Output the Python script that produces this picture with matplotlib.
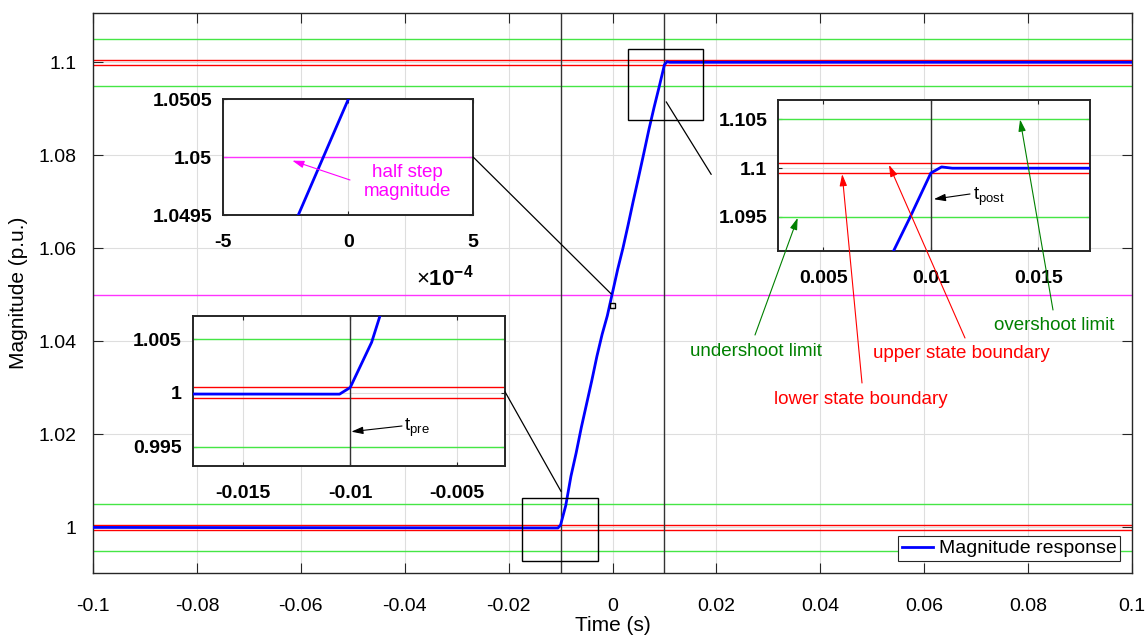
import numpy as np
import matplotlib
matplotlib.use("Agg")
import matplotlib.pyplot as plt
from matplotlib.patches import Rectangle, ConnectionPatch

plt.rcParams['font.family'] = ['Liberation Sans', 'DejaVu Sans']
plt.rcParams['axes.unicode_minus'] = False
plt.rcParams['mathtext.fontset'] = 'custom'
plt.rcParams['mathtext.rm'] = 'Liberation Sans'
plt.rcParams['mathtext.bf'] = 'Liberation Sans:bold'
plt.rcParams['mathtext.it'] = 'Liberation Sans'

# magnitude response samples (s, p.u.)
t = [-0.1, -0.0105, -0.010, -0.009, -0.008, -0.007, -0.006, -0.005, -0.004,
     -0.003, -0.002, -0.001, 0.0, 0.001, 0.002, 0.003, 0.004, 0.005, 0.006,
     0.007, 0.008, 0.009, 0.010, 0.0105, 0.011, 0.1]
mag = [1.0, 0.99988, 1.0005, 1.0047, 1.0110, 1.0160, 1.0215, 1.0265, 1.0315,
       1.0368, 1.0415, 1.0455, 1.0505, 1.0555, 1.0600, 1.0650, 1.0702, 1.0752,
       1.0803, 1.0855, 1.0903, 1.0948, 1.0995, 1.10013, 1.1000, 1.1000]

t_pre, t_post = -0.01, 0.01
state_lo = [0.9995, 1.0005]      # boundaries around initial state
state_hi = [1.0995, 1.1005]      # boundaries around final state
limits = [0.995, 1.005, 1.095, 1.105]   # under/overshoot limits
half_step = 1.05

xticks_main = np.round(np.arange(-0.1, 0.1001, 0.02), 2)
yticks_main = np.round(np.arange(1.0, 1.1001, 0.02), 2)

GREEN = '#45e645'
BLUE = '#0000ff'
GRID = '#dedede'
SPINE = '#262626'

W, H = 1147, 642


def fp(x, y):
    # pixel (from top-left) -> figure fraction
    return (x / W, 1 - y / H)


def draw_lines(ax, lw_blue=2.0):
    for v in limits:
        ax.axhline(v, color=GREEN, lw=1.0, zorder=2)
    for v in state_lo + state_hi:
        ax.axhline(v, color='red', lw=1.0, zorder=2)
    ax.axhline(half_step, color='#ff33ff', lw=1.0, zorder=2)
    for v in (t_pre, t_post):
        ax.axvline(v, color='#333333', lw=1.0, zorder=2)
    ax.plot(t, mag, color=BLUE, lw=lw_blue, zorder=3, label='Magnitude response')


def style(ax, size, bold, length, pad):
    ax.grid(True, color=GRID, lw=0.8, zorder=0)
    ax.set_axisbelow(True)
    ax.tick_params(direction='in', top=True, right=True, length=length,
                   width=0.8, color=SPINE, labelsize=size, pad=pad)
    for s in ax.spines.values():
        s.set_color(SPINE)
        s.set_linewidth(1.0 if not bold else 1.4)
    if bold:
        ax.tick_params(axis='x', pad=pad + 6)
        for lab in ax.get_xticklabels() + ax.get_yticklabels():
            lab.set_fontweight('bold')


fig = plt.figure(figsize=(W / 100, H / 100), dpi=100)
ax = fig.add_axes([93 / W, 1 - 573 / H, (1132 - 93) / W, (573 - 13) / H])
draw_lines(ax)
ax.set_xlim(-0.1, 0.1)
ax.set_ylim(0.9902, 1.1106)
ax.set_xticks(xticks_main)
ax.set_xticklabels(['%g' % v for v in xticks_main])
ax.set_yticks(yticks_main)
ax.set_yticklabels(['%g' % v for v in yticks_main])
style(ax, 14, False, 7, 12)
ax.tick_params(axis='x', pad=18)
ax.set_xlabel('Time (s)', fontsize=15, labelpad=1)
ax.set_ylabel('Magnitude (p.u.)', fontsize=15, labelpad=7)
leg = ax.legend(loc='lower right', fontsize=14, handlelength=1.6,
                handletextpad=0.3, borderpad=0.2, borderaxespad=0.6,
                fancybox=False, framealpha=1)
leg.get_frame().set_edgecolor(SPINE)
leg.get_frame().set_linewidth(0.8)

# zoom rectangles on the main axes
for (x0, x1, y0, y1) in [(-0.01738, -0.00283, 0.9928, 1.0063),
                         (0.00289, 0.01738, 1.0877, 1.1028),
                         (-0.00055, 0.00055, 1.0471, 1.0482)]:
    ax.add_patch(Rectangle((x0, y0), x1 - x0, y1 - y0, fill=False,
                           ec='black', lw=1.0, zorder=4))

# inset: half step
ax1 = fig.add_axes([223.3 / W, 1 - 215 / H, 250 / W, 115.7 / H])
draw_lines(ax1)
ax1.set_xlim(-5e-4, 5e-4)
ax1.set_ylim(1.0495, 1.0505)
ax1.set_xticks([-5e-4, 0, 5e-4])
ax1.set_xticklabels(['-5', '0', '5'])
ax1.set_yticks([1.0495, 1.05, 1.0505])
ax1.set_yticklabels(['1.0495', '1.05', '1.0505'])
style(ax1, 14, True, 3, 8)
ax1.text(1.0, -0.54, r'$\times\mathbf{10^{-4}}$', transform=ax1.transAxes,
         ha='right', va='center', fontsize=16)

# inset: t_pre
ax2 = fig.add_axes([192.7 / W, 1 - 465.7 / H, 312.3 / W, 150 / H])
draw_lines(ax2)
ax2.set_xlim(-0.01736, -0.00277)
ax2.set_ylim(0.99323, 1.00717)
ax2.set_xticks([-0.015, -0.01, -0.005])
ax2.set_xticklabels(['-0.015', '-0.01', '-0.005'])
ax2.set_yticks([0.995, 1.0, 1.005])
ax2.set_yticklabels(['0.995', '1', '1.005'])
style(ax2, 14, True, 3, 8)

# inset: t_post
ax3 = fig.add_axes([778.3 / W, 1 - 251 / H, 311.7 / W, 151 / H])
draw_lines(ax3)
ax3.set_xlim(0.00291, 0.0174)
ax3.set_ylim(1.0915, 1.107)
ax3.set_xticks([0.005, 0.01, 0.015])
ax3.set_xticklabels(['0.005', '0.01', '0.015'])
ax3.set_yticks([1.095, 1.1, 1.105])
ax3.set_yticklabels(['1.095', '1.1', '1.105'])
style(ax3, 14, True, 3, 8)

# connectors from insets to zoom boxes
for xyA, axA, xyB in [((1.0, 0.5), ax1, (-0.00025, 1.0502)),
                      ((1.0, 0.493), ax2, (-0.00988, 1.0077))]:
    con = ConnectionPatch(xyA=xyA, coordsA=axA.transAxes, xyB=xyB,
                          coordsB=ax.transData, color='black', lw=0.9)
    fig.add_artist(con)
con = ConnectionPatch(xyA=(0.01034, 1.0915), coordsA=ax.transData,
                      xyB=(0.0190, 1.0759), coordsB=ax.transData,
                      color='black', lw=0.9)
fig.add_artist(con)

arrow = dict(arrowstyle='-|>,head_length=0.7,head_width=0.22', lw=0.8,
             shrinkA=0, shrinkB=0)


def note(axis, xy, tail, color, label, textpos, ha='center'):
    fig.add_artist(plt.Annotation('', xy=xy, xycoords=axis.transData,
                                  xytext=fp(*tail), textcoords='figure fraction',
                                  arrowprops=dict(arrow, color=color)))
    fig.text(*fp(*textpos), label, color=color, fontsize=13.5, ha=ha,
             va='center', linespacing=1.15)


note(ax1, (-2.24e-4, 1.04997), (350, 180), '#ff00ff', 'half step\nmagnitude', (407, 182))
note(ax2, (-0.00995, 0.99639), (402, 426), 'black', r'$\mathregular{t_{pre}}$', (404, 428), ha='left')
note(ax3, (0.01014, 1.09682), (970, 194), 'black', r'$\mathregular{t_{post}}$', (973, 197), ha='left')
note(ax3, (0.00381, 1.0949), (755, 335), '#008000', 'undershoot limit', (756, 352))
note(ax3, (0.00588, 1.09939), (862, 383), 'red', 'lower state boundary', (861, 399))
note(ax3, (0.008056, 1.10034), (965, 338), 'red', 'upper state boundary', (961, 353))
note(ax3, (0.01415, 1.105), (1053, 310), '#008000', 'overshoot limit', (1054, 325))

fig.savefig('out.png', dpi=100)
